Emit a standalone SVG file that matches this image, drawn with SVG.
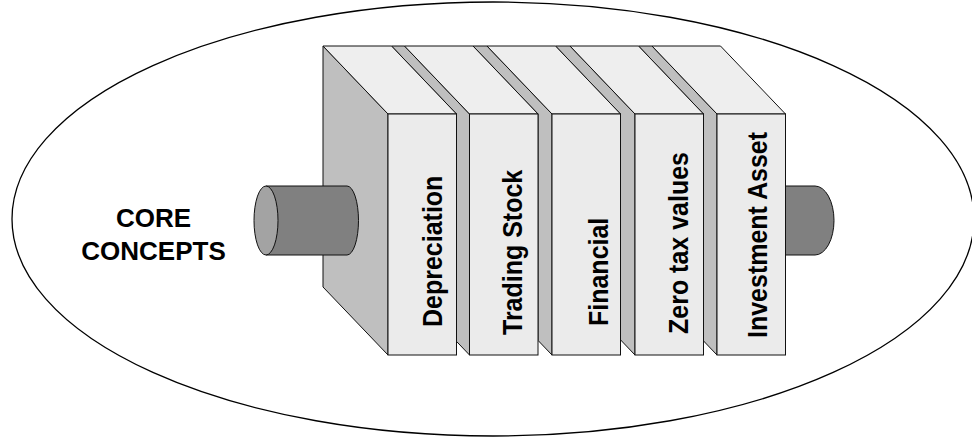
<svg xmlns="http://www.w3.org/2000/svg" width="972" height="439" viewBox="0 0 972 439">
  <style>
    .edge { stroke: #111; stroke-width: 1; stroke-linejoin: miter; }
    .side { fill: #bfbfbf; }
    .top { fill: #eeeeee; }
    .front { fill: #ebebeb; }
    .shaft { fill: #808080; stroke: #111; stroke-width: 1; }
    .cap { fill: #a3a3a3; stroke: #111; stroke-width: 1; }
    .spine-label { font-family: "Liberation Sans", Arial, sans-serif; font-weight: bold; font-size: 25px; fill: #000; }
    .title { font-family: "Liberation Sans", Arial, sans-serif; font-weight: bold; font-size: 26px; fill: #000; text-anchor: middle; }
  </style>

  <!-- outer boundary -->
  <ellipse id="boundary" cx="493" cy="219" rx="481" ry="217" fill="#ffffff" stroke="#000" stroke-width="1.3"/>

  <!-- title -->
  <g id="core-concepts">
    <text class="title" x="153.5" y="227">CORE</text>
    <text class="title" x="153.5" y="260">CONCEPTS</text>
  </g>

  <!-- shaft behind the stack (right side) -->
  <g id="connectors">
    <path id="shaft-right" class="shaft" d="M760,186 L815,186 A19,34.5 0 0 1 815,255 L760,255 Z"/>
  </g>

  <!-- blocks, drawn back (right) to front (left) -->
  <g id="book-investment-asset">
    <polygon class="side edge" points="638.5,46 652,46 717,114 717,355 703.5,340.9 703.5,114"/>
    <polygon class="top edge" points="652,46 720.5,46 785.5,114 717,114"/>
    <rect class="front edge" x="717" y="114" width="68.5" height="241"/>
    <text class="spine-label" transform="translate(766.5,338) rotate(-90) scale(1,1.12)">Investment Asset</text>
  </g>

  <g id="book-zero-tax-values">
    <polygon class="side edge" points="555.5,46 570,46 635,114 635,355 620.5,339.8 620.5,114"/>
    <polygon class="top edge" points="570,46 638.5,46 703.5,114 635,114"/>
    <rect class="front edge" x="635" y="114" width="68.5" height="241"/>
    <text class="spine-label" transform="translate(688,334) rotate(-90) scale(1,1.12)">Zero tax values</text>
  </g>

  <g id="book-financial">
    <polygon class="side edge" points="473,46 487,46 552,114 552,355 538,340.4 538,114"/>
    <polygon class="top edge" points="487,46 555.5,46 620.5,114 552,114"/>
    <rect class="front edge" x="552" y="114" width="68.5" height="241"/>
    <text class="spine-label" transform="translate(608,326) rotate(-90) scale(1,1.12)">Financial</text>
  </g>

  <g id="book-trading-stock">
    <polygon class="side edge" points="391.5,46 404.5,46 469.5,114 469.5,355 456.5,341.4 456.5,114"/>
    <polygon class="top edge" points="404.5,46 473,46 538,114 469.5,114"/>
    <rect class="front edge" x="469.5" y="114" width="68.5" height="241"/>
    <text class="spine-label" transform="translate(521.5,335) rotate(-90) scale(1,1.12)">Trading Stock</text>
  </g>

  <g id="book-depreciation">
    <polygon class="side edge" points="323,46 388,114 388,355 323,287"/>
    <polygon class="top edge" points="323,46 391.5,46 456.5,114 388,114"/>
    <rect class="front edge" x="388" y="114" width="68.5" height="241"/>
    <text class="spine-label" transform="translate(441.5,327) rotate(-90) scale(1,1.12)">Depreciation</text>
  </g>

  <!-- shaft in front of the stack (left side) -->
  <g id="shaft-left">
    <path class="shaft" d="M266,186 L347,186 A11.5,34.5 0 0 1 347,255 L266,255 Z"/>
    <ellipse class="cap" cx="266" cy="220.5" rx="12" ry="34.5"/>
  </g>
</svg>
